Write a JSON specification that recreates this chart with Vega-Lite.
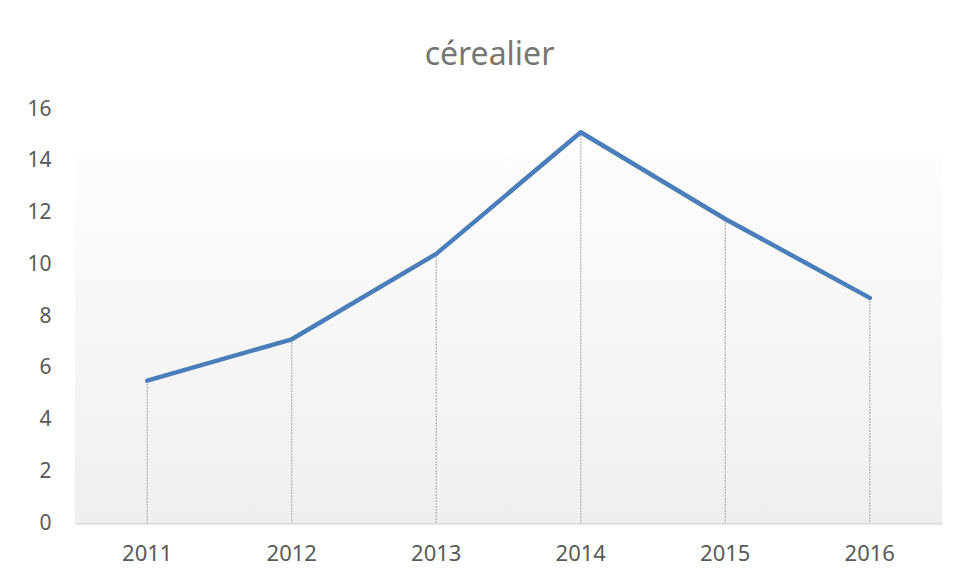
{
  "$schema": "https://vega.github.io/schema/vega-lite/v6.json",
  "width": 867,
  "height": 414,
  "autosize": {"type": "none"},
  "padding": {"left": 75, "top": 109, "right": 14, "bottom": 58},
  "background": "white",
  "title": {
    "text": "cérealier",
    "font": "Noto Sans",
    "fontSize": 32,
    "fontWeight": "normal",
    "color": "#767676",
    "anchor": "middle",
    "baseline": "alphabetic",
    "offset": 1,
    "dx": -19
  },
  "data": {
    "values": [
      {"annee": "2011", "valeur": 5.5},
      {"annee": "2012", "valeur": 7.1},
      {"annee": "2013", "valeur": 10.4},
      {"annee": "2014", "valeur": 15.1},
      {"annee": "2015", "valeur": 11.75},
      {"annee": "2016", "valeur": 8.7}
    ]
  },
  "layer": [
    {
      "data": {"values": [{"zone": "fond"}]},
      "mark": {
        "type": "rect",
        "color": {
          "gradient": "linear",
          "x1": 0, "y1": 0, "x2": 0, "y2": 1,
          "stops": [
            {"offset": 0, "color": "#fdfdfd"},
            {"offset": 1, "color": "#efefef"}
          ]
        }
      },
      "encoding": {
        "y": {"datum": 14.2, "type": "quantitative", "scale": {"domain": [0, 16]}},
        "y2": {"datum": 0}
      }
    },
    {
      "mark": {"type": "rule", "color": "#bdbdbd", "strokeWidth": 1.5, "strokeDash": [2, 1]},
      "encoding": {
        "x": {"field": "annee", "type": "ordinal"},
        "y": {"field": "valeur", "type": "quantitative"},
        "y2": {"datum": 0}
      }
    },
    {
      "mark": {"type": "line", "color": "#4a7ebb", "strokeWidth": 4.5, "strokeJoin": "round", "strokeCap": "round"},
      "encoding": {
        "x": {
          "field": "annee",
          "type": "ordinal",
          "scale": {"paddingInner": 0, "paddingOuter": 0},
          "axis": {
            "title": null,
            "labelAngle": 0,
            "labelAlign": "center",
            "ticks": false,
            "domainColor": "#d9d9d9",
            "domainWidth": 2,
            "labelFont": "Noto Sans",
            "labelFontSize": 22,
            "labelColor": "#595959",
            "labelPadding": 30
          }
        },
        "y": {
          "field": "valeur",
          "type": "quantitative",
          "scale": {"domain": [0, 16], "nice": false},
          "axis": {
            "title": null,
            "values": [0, 2, 4, 6, 8, 10, 12, 14, 16],
            "domain": false,
            "ticks": false,
            "grid": false,
            "labelFont": "Noto Sans",
            "labelFontSize": 21,
            "labelColor": "#595959",
            "labelPadding": 24
          }
        }
      }
    }
  ],
  "config": {
    "view": {"stroke": null}
  }
}
